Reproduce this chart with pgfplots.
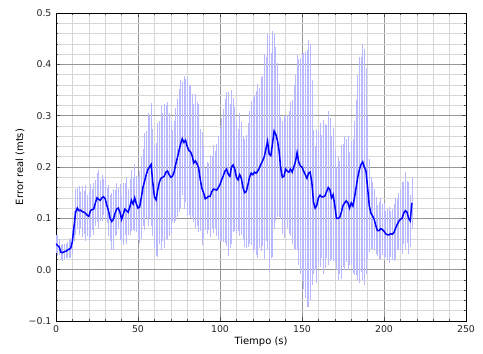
\documentclass[border=0pt]{standalone}
\usepackage{fontspec}
\setmainfont{DejaVu Sans}
\usepackage{pgfplots}
\usepackage{pgfplotstable}
\pgfplotsset{compat=1.18}

\definecolor{meanline}{RGB}{0,0,255}
\definecolor{errbar}{RGB}{185,185,255}
\definecolor{majgrid}{RGB}{150,150,150}
\definecolor{mingrid}{RGB}{215,215,215}

% t (s), mean error (m), spread (m)
\pgfplotstableread{
x y e
0 0.050 0.018
1 0.047 0.020
2 0.044 0.016
3 0.034 0.015
4 0.033 0.017
5 0.035 0.015
6 0.036 0.014
7 0.038 0.016
8 0.040 0.018
9 0.042 0.020
10 0.055 0.025
11 0.085 0.030
12 0.112 0.045
13 0.120 0.040
14 0.115 0.048
15 0.116 0.035
16 0.113 0.050
17 0.112 0.042
18 0.110 0.055
19 0.106 0.040
20 0.104 0.048
21 0.115 0.052
22 0.117 0.040
23 0.118 0.050
24 0.130 0.045
25 0.140 0.048
26 0.137 0.058
27 0.135 0.040
28 0.140 0.045
29 0.142 0.035
30 0.138 0.040
31 0.125 0.035
32 0.115 0.050
33 0.100 0.045
34 0.094 0.055
35 0.098 0.060
36 0.110 0.045
37 0.118 0.050
38 0.120 0.040
39 0.112 0.055
40 0.098 0.045
41 0.108 0.060
42 0.118 0.050
43 0.115 0.065
44 0.112 0.045
45 0.122 0.055
46 0.135 0.060
47 0.128 0.050
48 0.140 0.065
49 0.128 0.055
50 0.120 0.060
51 0.122 0.070
52 0.140 0.080
53 0.160 0.075
54 0.172 0.095
55 0.185 0.085
56 0.195 0.110
57 0.200 0.100
58 0.205 0.120
59 0.170 0.105
60 0.142 0.100
61 0.136 0.110
62 0.155 0.130
63 0.170 0.120
64 0.178 0.140
65 0.180 0.125
66 0.182 0.140
67 0.190 0.130
68 0.192 0.135
69 0.185 0.120
70 0.180 0.110
71 0.182 0.090
72 0.190 0.100
73 0.205 0.110
74 0.218 0.115
75 0.232 0.120
76 0.245 0.125
77 0.255 0.110
78 0.248 0.130
79 0.252 0.120
80 0.240 0.135
81 0.232 0.125
82 0.230 0.130
83 0.222 0.120
84 0.208 0.115
85 0.212 0.130
86 0.206 0.120
87 0.198 0.125
88 0.175 0.100
89 0.158 0.110
90 0.150 0.090
91 0.138 0.060
92 0.140 0.070
93 0.143 0.065
94 0.143 0.080
95 0.152 0.070
96 0.157 0.085
97 0.156 0.075
98 0.155 0.090
99 0.160 0.100
100 0.166 0.110
101 0.175 0.120
102 0.183 0.130
103 0.192 0.140
104 0.196 0.150
105 0.186 0.160
106 0.182 0.140
107 0.200 0.150
108 0.204 0.130
109 0.196 0.120
110 0.180 0.110
111 0.175 0.100
112 0.185 0.120
113 0.178 0.110
114 0.160 0.100
115 0.150 0.105
116 0.152 0.110
117 0.165 0.120
118 0.180 0.130
119 0.188 0.140
120 0.185 0.150
121 0.190 0.150
122 0.188 0.160
123 0.192 0.170
124 0.198 0.155
125 0.206 0.170
126 0.212 0.165
127 0.220 0.200
128 0.235 0.180
129 0.250 0.210
130 0.225 0.230
131 0.222 0.200
132 0.245 0.220
133 0.270 0.190
134 0.264 0.170
135 0.252 0.150
136 0.232 0.130
137 0.198 0.100
138 0.180 0.110
139 0.182 0.120
140 0.196 0.100
141 0.192 0.110
142 0.190 0.120
143 0.196 0.130
144 0.190 0.140
145 0.200 0.160
146 0.210 0.170
147 0.228 0.190
148 0.210 0.200
149 0.202 0.210
150 0.200 0.220
151 0.192 0.230
152 0.185 0.240
153 0.178 0.250
154 0.188 0.260
155 0.190 0.250
156 0.170 0.200
157 0.132 0.140
158 0.120 0.120
159 0.125 0.150
160 0.140 0.130
161 0.145 0.140
162 0.142 0.120
163 0.142 0.150
164 0.144 0.140
165 0.152 0.130
166 0.160 0.150
167 0.156 0.140
168 0.140 0.120
169 0.146 0.130
170 0.125 0.110
171 0.100 0.100
172 0.100 0.120
173 0.102 0.110
174 0.112 0.130
175 0.125 0.120
176 0.130 0.130
177 0.134 0.120
178 0.130 0.130
179 0.120 0.110
180 0.130 0.120
181 0.124 0.130
182 0.140 0.150
183 0.160 0.170
184 0.180 0.200
185 0.195 0.220
186 0.205 0.210
187 0.210 0.230
188 0.200 0.230
189 0.192 0.200
190 0.160 0.140
191 0.125 0.090
192 0.110 0.070
193 0.105 0.065
194 0.098 0.060
195 0.086 0.055
196 0.076 0.050
197 0.076 0.055
198 0.080 0.060
199 0.078 0.050
200 0.075 0.055
201 0.070 0.045
202 0.068 0.050
203 0.068 0.055
204 0.070 0.045
205 0.069 0.050
206 0.072 0.055
207 0.080 0.060
208 0.088 0.050
209 0.094 0.055
210 0.098 0.060
211 0.100 0.070
212 0.110 0.060
213 0.115 0.075
214 0.112 0.060
215 0.100 0.070
216 0.095 0.050
217 0.130 0.050
}\errdata

\begin{document}
\begin{tikzpicture}
\begin{axis}[
  at={(0,0)}, anchor=south west,
  scale only axis,
  width=410bp, height=308bp,
  xmin=0, xmax=250, ymin=-0.1, ymax=0.5,
  xtick={0,50,100,150,200,250},
  xticklabels={0,50,100,150,200,250},
  ytick={-0.1,0,0.1,0.2,0.3,0.4,0.5},
  yticklabels={−0.1,0.0,0.1,0.2,0.3,0.4,0.5},
  minor x tick num=4,
  minor y tick num=4,
  grid=both,
  major grid style={draw=majgrid, line width=0.7bp},
  minor grid style={draw=mingrid, line width=0.6bp},
  axis line style={draw=black, line width=0.9bp},
  tick align=inside,
  major tick length=4bp,
  minor tick length=2bp,
  tick style={draw=black!70, line width=0.6bp},
  tick label style={font=\fontsize{9.4bp}{11bp}\selectfont, text=black!85},
  xticklabel style={yshift=-1bp},
  yticklabel style={xshift=-1bp},
  label style={font=\fontsize{9.4bp}{11bp}\selectfont, text=black!85},
  every axis x label/.style={at={(axis description cs:0.5,0)}, yshift=-21bp, anchor=center},
  every axis y label/.style={at={(axis description cs:0,0.5)}, xshift=-36bp, rotate=90, anchor=center},
  xlabel={Tiempo (s)},
  ylabel={Error real (mts)},
  clip=true,
]
% spread of each sample as a vertical bar
\addplot[draw=none, no marks, forget plot,
  error bars/.cd, y dir=both, y explicit, error mark=none,
  error bar style={draw=errbar, line width=0.6bp, solid}]
  table[x=x, y=y, y error=e] {\errdata};
% mean error
\addplot[draw=meanline, line width=1.5bp, no marks] table[x=x, y=y] {\errdata};
\end{axis}
\pgfresetboundingbox
\path[use as bounding box] (-56bp,-33bp) rectangle (427bp,321bp);
\end{tikzpicture}
\end{document}
